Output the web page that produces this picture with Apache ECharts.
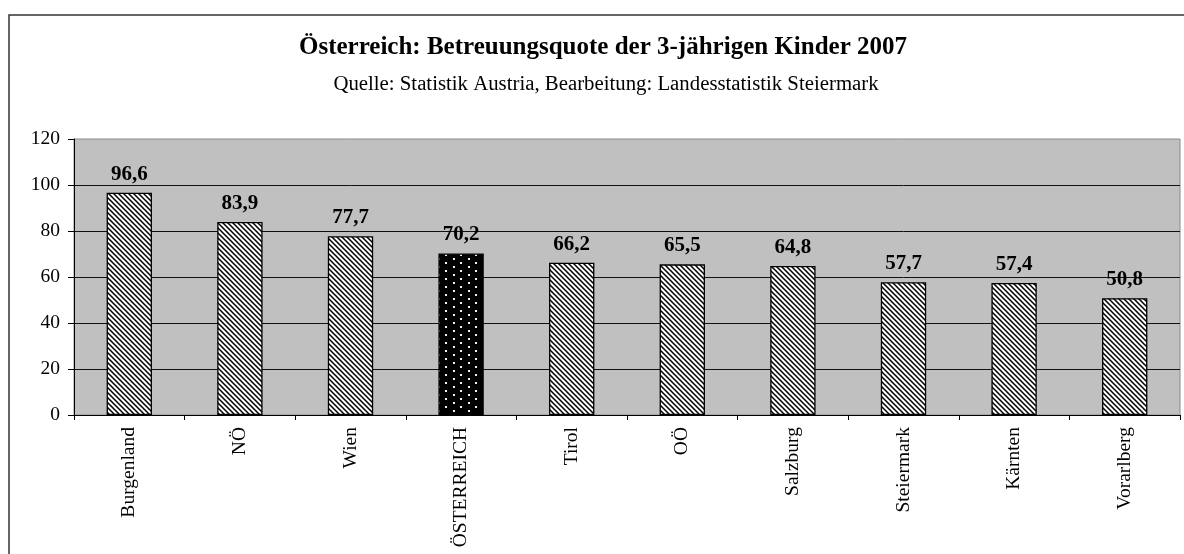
<!DOCTYPE html>
<html>
<head>
<meta charset="utf-8">
<script src="https://cdn.jsdelivr.net/npm/echarts@6/dist/echarts.min.js"></script>
<style>
html,body{margin:0;padding:0;background:#fff;}
#c{width:1184px;height:554px;}
</style>
</head>
<body>
<div id="c"></div>
<script>
var categories = ['Burgenland', 'NÖ', 'Wien', 'ÖSTERREICH', 'Tirol', 'OÖ', 'Salzburg', 'Steiermark', 'Kärnten', 'Vorarlberg'];
var values = [96.6, 83.9, 77.7, 70.2, 66.2, 65.5, 64.8, 57.7, 57.4, 50.8];
var highlight = 'ÖSTERREICH';
var yTicks = {min: 0, max: 120, interval: 20};

var FONT = '"Liberation Serif", "Times New Roman", serif';

function hatchPattern() {
  var s = 5;
  var c = document.createElement('canvas');
  c.width = s; c.height = s;
  var g = c.getContext('2d');
  g.fillStyle = '#fff'; g.fillRect(0, 0, s, s);
  g.strokeStyle = '#000'; g.lineWidth = 1.5;
  g.beginPath();
  g.moveTo(-1, -1); g.lineTo(s + 1, s + 1);
  g.moveTo(-1, s - 1); g.lineTo(1, s + 1);
  g.moveTo(s - 1, -1); g.lineTo(s + 1, 1);
  g.stroke();
  return c;
}
function dotPattern() {
  var c = document.createElement('canvas');
  c.width = 15; c.height = 8;
  var g = c.getContext('2d');
  g.fillStyle = '#000'; g.fillRect(0, 0, 15, 8);
  g.fillStyle = '#f0f0f0';
  g.fillRect(3, 2, 2, 2);
  g.fillRect(10, 6, 2, 2);
  return c;
}
var hatch = hatchPattern();
var dots = dotPattern();

var seriesData = values.map(function (v, i) {
  return {
    value: v,
    itemStyle: {
      color: {image: categories[i] === highlight ? dots : hatch, repeat: 'repeat'},
      borderColor: '#000',
      borderWidth: 1.3
    }
  };
});

var chart = echarts.init(document.getElementById('c'), null, {renderer: 'canvas'});
chart.setOption({
  animation: false,
  backgroundColor: '#fff',
  title: [
    {
      text: 'Österreich: Betreuungsquote der 3-jährigen Kinder 2007',
      left: 598, top: 30, textAlign: 'center',
      textStyle: {fontFamily: FONT, fontSize: 25, fontWeight: 'bold', color: '#000'}
    },
    {
      text: 'Quelle: Statistik Austria, Bearbeitung: Landesstatistik Steiermark',
      left: 601, top: 69, textAlign: 'center',
      textStyle: {fontFamily: FONT, fontSize: 20.8, fontWeight: 'normal', color: '#000'}
    }
  ],
  graphic: [
    {
      type: 'rect', silent: true, z: -1,
      shape: {x: 9, y: 15, width: 1300, height: 700},
      style: {fill: 'none', stroke: '#333', lineWidth: 1.5}
    }
  ],
  grid: {
    left: 74, right: 4, top: 139, bottom: 139,
    outerBoundsMode: 'none',
    containLabel: false,
    show: true, backgroundColor: '#c0c0c0', borderColor: '#8a8a8a', borderWidth: 1
  },
  xAxis: {
    type: 'category',
    data: categories,
    axisLine: {lineStyle: {color: '#000', width: 1}},
    axisTick: {show: true, length: 5, lineStyle: {color: '#000'}},
    axisLabel: {
      rotate: 90, margin: 12, interval: 0,
      fontFamily: FONT, fontSize: 19.5, color: '#000'
    }
  },
  yAxis: {
    type: 'value',
    min: yTicks.min, max: yTicks.max, interval: yTicks.interval,
    axisLine: {show: true, lineStyle: {color: '#000', width: 1}},
    axisTick: {show: true, length: 6, lineStyle: {color: '#000'}},
    axisLabel: {margin: 14, fontFamily: FONT, fontSize: 19.5, color: '#000'},
    splitLine: {show: true, showMaxLine: false, lineStyle: {color: '#111', width: 1}}
  },
  series: [{
    type: 'bar',
    data: seriesData,
    barWidth: '41%',
    label: {
      show: true, position: 'top', distance: 8,
      fontFamily: FONT, fontSize: 21, fontWeight: 'bold', color: '#000',
      formatter: function (p) { return String(p.value).replace('.', ','); }
    }
  }]
});
</script>
</body>
</html>
